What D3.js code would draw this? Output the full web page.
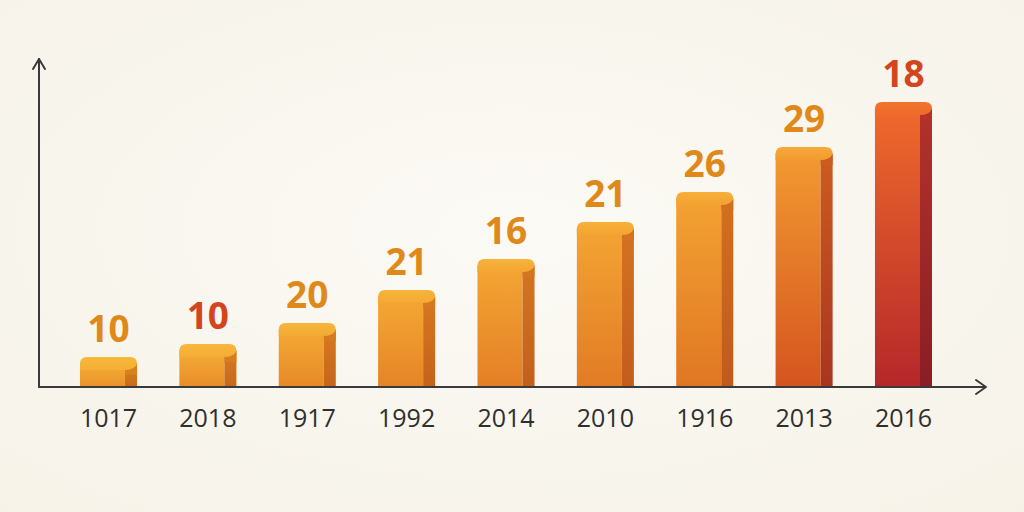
<!DOCTYPE html>
<html>
<head>
<meta charset="utf-8">
<script src="https://cdn.jsdelivr.net/npm/d3@7"></script>
<style>
  html, body { margin: 0; padding: 0; background: #faf7f0; }
  svg { display: block; }
</style>
</head>
<body>
<div id="chart"></div>
<script>
// categories along the x axis, left to right
const categories = ["1017", "2018", "1917", "1992", "2014", "2010", "1916", "2013", "2016"];
// numbers printed above each bar
const valueLabels = [10, 10, 20, 21, 16, 21, 26, 29, 18];
// drawn bar heights (they do not follow the printed numbers)
const barLevels = [30, 43, 64, 97, 128, 165, 195, 240, 285];
// labels printed in red instead of orange
const redLabels = ["2018", "2016"];

const W = 1024, H = 512;
const baseY = 387, axisX = 39;

const svg = d3.select("#chart").append("svg").attr("width", W).attr("height", H);

// soft background glow
const defs = svg.append("defs");
const bg = defs.append("radialGradient").attr("id", "bg").attr("cx", "50%").attr("cy", "45%").attr("r", "75%");
bg.append("stop").attr("offset", "0%").attr("stop-color", "#fcfaf5");
bg.append("stop").attr("offset", "100%").attr("stop-color", "#f6f2e8");
svg.append("rect").attr("width", W).attr("height", H).attr("fill", "url(#bg)");

const x = d3.scaleBand().domain(categories).range([80, 932]).paddingInner(0.426).paddingOuter(0);
const y = d3.scaleLinear().domain([0, 330]).range([baseY, baseY - 330]);

const idx = d3.scaleLinear().domain([0, 6, 7, 8]);
const topCol = idx.copy().range(["#f5ae35", "#f3a232", "#f29a32", "#ef6a2c"]).interpolate(d3.interpolateRgb);
const botCol = idx.copy().range(["#e9922a", "#e07624", "#d5541f", "#b5272a"]).interpolate(d3.interpolateRgb);
const sideTop = idx.copy().range(["#d8801f", "#d36f20", "#cc5c20", "#b3322a"]).interpolate(d3.interpolateRgb);
const sideBot = idx.copy().range(["#c96a1c", "#c05a1c", "#a8351f", "#8a1d25"]).interpolate(d3.interpolateRgb);

const side = 12;
const bars = svg.append("g").selectAll("g").data(categories).join("g");

bars.each(function (c, i) {
  const g = d3.select(this);
  const x0 = x(c), bw = x.bandwidth();
  const top = y(barLevels[i]);
  const h = baseY - top;

  const gf = defs.append("linearGradient").attr("id", "f" + i).attr("x1", 0).attr("y1", 0).attr("x2", 0).attr("y2", 1);
  gf.append("stop").attr("offset", "0%").attr("stop-color", topCol(i));
  gf.append("stop").attr("offset", "100%").attr("stop-color", botCol(i));
  const gs = defs.append("linearGradient").attr("id", "s" + i).attr("x1", 0).attr("y1", 0).attr("x2", 0).attr("y2", 1);
  gs.append("stop").attr("offset", "0%").attr("stop-color", sideTop(i));
  gs.append("stop").attr("offset", "100%").attr("stop-color", sideBot(i));
  const capLight = d3.interpolateRgb(topCol(i), "#ffd04a")(i < 8 ? 0.3 : 0.1);
  const gc = defs.append("linearGradient").attr("id", "c" + i).attr("x1", 0).attr("y1", 0).attr("x2", 0).attr("y2", 1);
  gc.append("stop").attr("offset", "0%").attr("stop-color", capLight);
  gc.append("stop").attr("offset", "100%").attr("stop-color", topCol(i));

  // front face
  g.append("rect").attr("x", x0).attr("y", top + 6).attr("width", bw - side).attr("height", h - 6)
    .attr("fill", `url(#f${i})`);
  // side face
  g.append("rect").attr("x", x0 + bw - side).attr("y", top + 6).attr("width", side).attr("height", h - 6)
    .attr("fill", `url(#s${i})`);
  // rounded top cap
  const capH = 13, r = 7;
  g.append("path")
    .attr("d", `M${x0 + bw - side},${top + capH + 5} L${x0 + bw - side},${top + capH}
      Q${x0 + bw - 3},${top + capH} ${x0 + bw},${top + r}
      L${x0 + bw},${top + capH + 5} Z`)
    .attr("fill", sideTop(i));
  g.append("path")
    .attr("d", `M${x0},${top + capH} L${x0},${top + r} Q${x0},${top} ${x0 + r},${top}
      L${x0 + bw - r},${top} Q${x0 + bw},${top} ${x0 + bw},${top + r}
      Q${x0 + bw - 3},${top + capH} ${x0 + bw - side},${top + capH} Z`)
    .attr("fill", `url(#c${i})`);

  // value label
  g.append("text").attr("x", x0 + bw / 2).attr("y", top - 15)
    .attr("text-anchor", "middle")
    .style("font-family", "'Open Sans', 'Noto Sans', sans-serif")
    .style("font-weight", 700).style("font-size", "37px")
    .attr("fill", redLabels.includes(c) ? "#d3461d" : "#e0891b")
    .text(valueLabels[i]);

  // category label
  g.append("text").attr("x", x0 + bw / 2).attr("y", 427)
    .attr("text-anchor", "middle")
    .style("font-family", "'Open Sans', 'Noto Sans', sans-serif")
    .style("font-size", "25px").attr("fill", "#2f2f2f")
    .text(c);
});

// axes
const axis = svg.append("g").attr("stroke", "#3a3a3a").attr("stroke-width", 2).attr("fill", "none")
  .attr("stroke-linecap", "round").attr("stroke-linejoin", "round");
axis.append("line").attr("x1", axisX).attr("y1", baseY).attr("x2", 985).attr("y2", baseY);
axis.append("path").attr("d", `M976,${baseY - 7} L986,${baseY} L976,${baseY + 7}`);
axis.append("line").attr("x1", axisX).attr("y1", baseY).attr("x2", axisX).attr("y2", 59);
axis.append("path").attr("d", `M${axisX - 6},69 L${axisX},59 L${axisX + 6},69`);
</script>
</body>
</html>
